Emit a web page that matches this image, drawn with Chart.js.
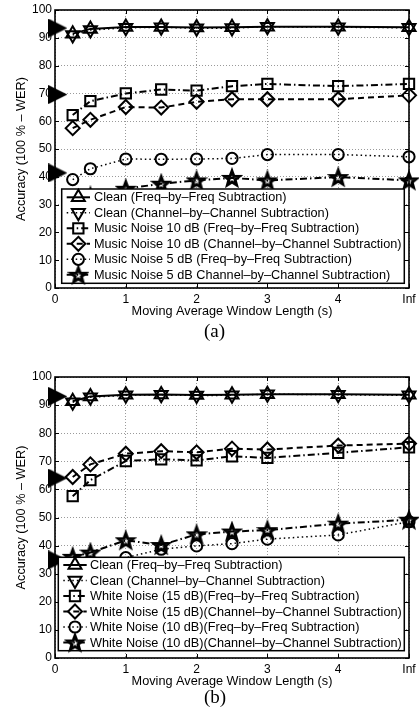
<!DOCTYPE html>
<html><head><meta charset="utf-8">
<script src="https://cdn.jsdelivr.net/npm/chart.js@4.4.1/dist/chart.umd.min.js"></script>
<style>
html,body{margin:0;padding:0;background:#fff;width:419px;height:709px;overflow:hidden;position:relative}
canvas{position:absolute;left:0}
.cap{position:absolute;font-family:"Liberation Serif","Times New Roman",serif;font-size:19px;line-height:19px;width:60px;text-align:center;color:#000}
</style></head><body>
<canvas id="ca" width="419" height="355" style="top:0"></canvas>
<canvas id="cb" width="419" height="342" style="top:367px"></canvas>
<div class="cap" style="left:184.5px;top:321px">(a)</div>
<div class="cap" style="left:185px;top:687px">(b)</div>
<script>
// ---------- DATA ----------
const xVals = [0.25, 0.5, 1, 1.5, 2, 2.5, 3, 4, 5];
const xTickLabels = ['0', '1', '2', '3', '4', 'Inf'];
const xTitle = 'Moving Average Window Length (s)';
const yTitle = 'Accuracy (100 % \u2013 WER)';

// Chart (a)
const aCleanFreq   = [91.5, 93.2, 93.9, 93.9, 93.7, 93.8, 94.0, 94.0, 93.8];
const aCleanChan   = [91.0, 92.8, 93.6, 93.8, 93.4, 93.5, 94.0, 93.8, 93.6];
const aMusic10Freq = [62.2, 67.2, 70.0, 71.4, 71.0, 72.6, 73.4, 72.6, 73.4];
const aMusic10Chan = [57.5, 60.5, 65.1, 64.9, 67.0, 67.9, 67.9, 67.9, 69.3];
const aMusic5Freq  = [39.0, 42.9, 46.4, 46.3, 46.4, 46.6, 48.0, 48.0, 47.2];
const aMusic5Chan  = [29.0, 33.0, 35.7, 37.5, 38.7, 39.6, 38.7, 39.9, 38.7];
const aBaseline    = [93.5, 69.6, 41.4];
const aLabels = [
  'Clean (Freq\u2013by\u2013Freq Subtraction)',
  'Clean (Channel\u2013by\u2013Channel Subtraction)',
  'Music Noise 10 dB (Freq\u2013by\u2013Freq Subtraction)',
  'Music Noise 10 dB (Channel\u2013by\u2013Channel Subtraction)',
  'Music Noise 5 dB (Freq\u2013by\u2013Freq Subtraction)',
  'Music Noise 5 dB Channel\u2013by\u2013Channel Subtraction)'
];

// Chart (b)
const bCleanFreq   = [91.4, 93.1, 93.7, 93.8, 93.6, 93.7, 93.9, 93.9, 93.7];
const bCleanChan   = [91.0, 92.8, 93.5, 93.7, 93.4, 93.5, 93.9, 93.7, 93.5];
const bWhite15Freq = [57.6, 63.3, 70.1, 70.7, 70.3, 71.8, 71.2, 73.0, 75.0];
const bWhite15Chan = [64.4, 68.9, 72.7, 73.6, 73.2, 74.5, 74.2, 75.6, 76.3];
const bWhite10Freq = [29.0, 32.0, 35.7, 38.7, 39.9, 40.7, 42.3, 43.8, 48.5];
const bWhite10Chan = [36.0, 37.5, 41.9, 40.2, 44.0, 45.0, 45.5, 47.8, 49.2];
const bBaseline    = [93.1, 64.0, 34.9];
const bLabels = [
  'Clean (Freq\u2013by\u2013Freq Subtraction)',
  'Clean (Channel\u2013by\u2013Channel Subtraction)',
  'White Noise (15 dB)(Freq\u2013by\u2013Freq Subtraction)',
  'White Noise (15 dB)(Channel\u2013by\u2013Channel Subtraction)',
  'White Noise (10 dB)(Freq\u2013by\u2013Freq Subtraction)',
  'White Noise (10 dB)(Channel\u2013by\u2013Channel Subtraction)'
];
const baselineX = 0.04;

// ---------- STYLE ----------
const FONT = '"Liberation Sans", Arial, Helvetica, sans-serif';
Chart.defaults.color = '#000';
Chart.defaults.font.family = FONT;

const DASH = { solid: [], dot: [1.5, 3], dash: [6, 4], dashdot: [7, 3, 1.5, 3] };
const seriesStyle = [
  { marker: 'triUp',   dash: 'solid',   lw: 2 },
  { marker: 'triDown', dash: 'dot',     lw: 1.5 },
  { marker: 'square',  dash: 'dashdot', lw: 2 },
  { marker: 'diamond', dash: 'dash',    lw: 2 },
  { marker: 'circle',  dash: 'dot',     lw: 1.5 },
  { marker: 'star',    dash: 'dashdot', lw: 2 }
];

function makeStar(R) {
  const s = Math.ceil(2 * R + 6);
  const c = document.createElement('canvas');
  c.width = c.height = s;
  const g = c.getContext('2d');
  g.translate(s / 2, s / 2 + R * 0.1);
  g.beginPath();
  for (let k = 0; k < 10; k++) {
    const r = k % 2 === 0 ? R : R * 0.42;
    const a = -Math.PI / 2 + k * Math.PI / 5;
    const px = r * Math.cos(a), py = r * Math.sin(a);
    k === 0 ? g.moveTo(px, py) : g.lineTo(px, py);
  }
  g.closePath();
  g.lineWidth = 3;
  g.lineJoin = 'miter';
  g.strokeStyle = '#000';
  g.stroke();
  return c;
}
function makeBigTri() {
  const c = document.createElement('canvas');
  c.width = 19; c.height = 19;
  const g = c.getContext('2d');
  g.beginPath(); g.moveTo(0, 0); g.lineTo(19, 9.5); g.lineTo(0, 19); g.closePath();
  g.fillStyle = '#000'; g.fill();
  return c;
}
const STAR = makeStar(7.6);
const BIGTRI = makeBigTri();

function pointOpts(m) {
  switch (m) {
    case 'triUp':   return { pointStyle: 'triangle', pointRadius: 7.5, pointRotation: 0 };
    case 'triDown': return { pointStyle: 'triangle', pointRadius: 7.5, pointRotation: 180 };
    case 'square':  return { pointStyle: 'rect', pointRadius: 7.3 };
    case 'diamond': return { pointStyle: 'rectRot', pointRadius: 7 };
    case 'circle':  return { pointStyle: 'circle', pointRadius: 5.6 };
    case 'star':    return { pointStyle: STAR, pointRadius: 7 };
  }
}

function drawMarker(ctx, m, x, y) {
  ctx.save();
  ctx.setLineDash([]);
  ctx.lineWidth = 2;
  ctx.strokeStyle = '#000';
  ctx.beginPath();
  if (m === 'triUp' || m === 'triDown') {
    const r = 7.5, s = m === 'triUp' ? 1 : -1;
    ctx.moveTo(x, y - s * r);
    ctx.lineTo(x + r * Math.sin(2 * Math.PI / 3), y + s * r / 2);
    ctx.lineTo(x - r * Math.sin(2 * Math.PI / 3), y + s * r / 2);
    ctx.closePath(); ctx.stroke();
  } else if (m === 'square') {
    const h = 7.3 * Math.SQRT1_2;
    ctx.rect(x - h, y - h, 2 * h, 2 * h); ctx.stroke();
  } else if (m === 'diamond') {
    const r = 7;
    ctx.moveTo(x, y - r); ctx.lineTo(x + r, y); ctx.lineTo(x, y + r); ctx.lineTo(x - r, y);
    ctx.closePath(); ctx.stroke();
  } else if (m === 'circle') {
    ctx.arc(x, y, 5.6, 0, Math.PI * 2); ctx.stroke();
  } else if (m === 'star') {
    ctx.drawImage(STAR, x - STAR.width / 2, y - STAR.height / 2);
  }
  ctx.restore();
}

function buildDatasets(series, baseline, labels) {
  const ds = series.map((arr, i) => Object.assign({
    label: labels[i],
    data: xVals.map((x, j) => ({ x: x, y: arr[j] })),
    showLine: true,
    borderColor: '#000',
    borderWidth: seriesStyle[i].lw,
    borderDash: DASH[seriesStyle[i].dash],
    pointBorderColor: '#000',
    pointBackgroundColor: 'rgba(0,0,0,0)',
    pointBorderWidth: 2,
    tension: 0,
    clip: false
  }, pointOpts(seriesStyle[i].marker)));
  ds.push({
    label: 'baseline',
    data: baseline.map(v => ({ x: baselineX, y: v })),
    showLine: false,
    pointStyle: BIGTRI,
    pointRadius: 9,
    clip: false
  });
  return ds;
}

const framePlugin = {
  id: 'frameLegend',
  afterDatasetsDraw(chart, args, opts) {
    const { ctx, chartArea: a, scales } = chart;
    ctx.save();
    ctx.strokeStyle = '#000';
    ctx.lineWidth = 1;
    ctx.setLineDash([]);
    const tl = 4;
    scales.x.ticks.forEach(t => {
      const px = Math.round(scales.x.getPixelForValue(t.value)) + 0.5;
      ctx.beginPath();
      ctx.moveTo(px, a.bottom); ctx.lineTo(px, a.bottom - tl);
      ctx.moveTo(px, a.top); ctx.lineTo(px, a.top + tl);
      ctx.stroke();
    });
    scales.y.ticks.forEach(t => {
      const py = Math.round(scales.y.getPixelForValue(t.value)) + 0.5;
      ctx.beginPath();
      ctx.moveTo(a.left, py); ctx.lineTo(a.left + tl, py);
      ctx.moveTo(a.right, py); ctx.lineTo(a.right - tl, py);
      ctx.stroke();
    });
    ctx.lineWidth = 1.6;
    ctx.strokeRect(a.left, a.top, a.right - a.left, a.bottom - a.top);
    const L = opts;
    ctx.fillStyle = '#fff';
    ctx.fillRect(L.x0, L.y0, L.x1 - L.x0, L.y1 - L.y0);
    ctx.lineWidth = 1.5;
    ctx.strokeStyle = '#000';
    ctx.strokeRect(L.x0, L.y0, L.x1 - L.x0, L.y1 - L.y0);
    ctx.font = '12.7px ' + FONT;
    ctx.textBaseline = 'middle';
    ctx.textAlign = 'left';
    L.labels.forEach((lab, i) => {
      const y = L.y0 + L.first + i * L.step;
      const st = seriesStyle[i];
      ctx.save();
      ctx.lineWidth = st.lw;
      ctx.setLineDash(DASH[st.dash]);
      ctx.beginPath();
      ctx.moveTo(L.x0 + L.lineA, y); ctx.lineTo(L.x0 + L.lineB, y);
      ctx.stroke();
      ctx.restore();
      drawMarker(ctx, st.marker, L.x0 + (L.lineA + L.lineB) / 2, y);
      ctx.fillStyle = '#000';
      ctx.fillText(lab, L.x0 + L.textX, y + 0.5);
    });
    ctx.restore();
  }
};

function makeChart(id, series, baseline, labels, pad, legendBox) {
  return new Chart(document.getElementById(id), {
    type: 'scatter',
    data: { datasets: buildDatasets(series, baseline, labels) },
    plugins: [framePlugin],
    options: {
      responsive: false,
      animation: false,
      devicePixelRatio: 1,
      layout: { padding: pad },
      events: [],
      plugins: {
        legend: { display: false },
        tooltip: { enabled: false },
        frameLegend: Object.assign({ labels: labels }, legendBox)
      },
      scales: {
        x: {
          type: 'linear', min: 0, max: 5,
          border: { display: false, dash: [1, 2] },
          grid: { color: '#9a9a9a', lineWidth: 1, drawTicks: false },
          ticks: { stepSize: 1, padding: 4, color: '#000', font: { family: FONT, size: 12 },
                   maxRotation: 0, autoSkip: false,
                   callback: (v) => xTickLabels[Math.round(v)] },
          title: { display: true, text: xTitle, color: '#000', padding: 0,
                   font: { family: FONT, size: 12.7 } },
          afterFit(s) { s.height = 31; s.paddingLeft = 0; s.paddingRight = 0; }
        },
        y: {
          min: 0, max: 100,
          border: { display: false, dash: [1, 2] },
          grid: { color: '#9a9a9a', lineWidth: 1, drawTicks: false },
          ticks: { stepSize: 10, padding: 3, color: '#000', font: { family: FONT, size: 12 } },
          title: { display: true, text: yTitle, color: '#000', padding: 0,
                   font: { family: FONT, size: 12.7 } },
          afterFit(s) { s.width = 41; s.paddingTop = 0; s.paddingBottom = 0; }
        }
      }
    }
  });
}

makeChart('ca',
  [aCleanFreq, aCleanChan, aMusic10Freq, aMusic10Chan, aMusic5Freq, aMusic5Chan],
  aBaseline, aLabels,
  { left: 14, right: 6, top: 8, bottom: 36 },
  { x0: 61.7, y0: 189, x1: 404.3, y1: 283.3, first: 8.3, step: 15.5, lineA: 5, lineB: 28.3, textX: 32.3 });

makeChart('cb',
  [bCleanFreq, bCleanChan, bWhite15Freq, bWhite15Chan, bWhite10Freq, bWhite10Chan],
  bBaseline, bLabels,
  { left: 14, right: 6, top: 9, bottom: 20 },
  { x0: 58.3, y0: 190.3, x1: 404.3, y1: 283.7, first: 7.7, step: 15.5, lineA: 5, lineB: 28.4, textX: 31.7 });
</script>
</body></html>
